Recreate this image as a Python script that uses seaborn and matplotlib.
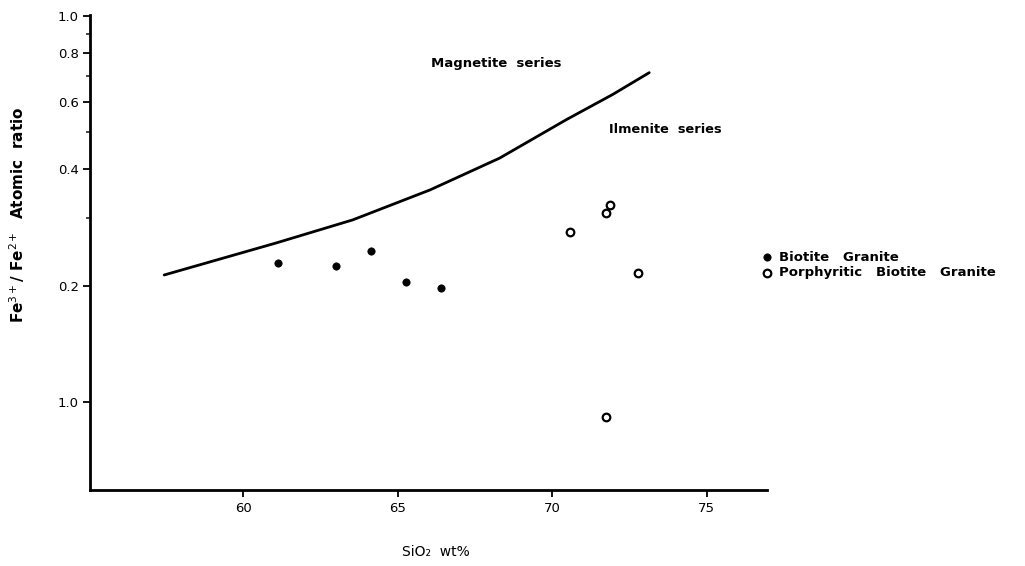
import numpy as np
import pandas as pd
import matplotlib
matplotlib.use("Agg")
import matplotlib.pyplot as plt
from matplotlib.ticker import FixedLocator, NullFormatter
import seaborn as sns

# boundary curve between magnetite and ilmenite series
curve_sio2 = [57.45, 61.08, 63.55, 66.05, 68.30, 70.45, 71.96, 73.14]
curve_ratio = [0.213, 0.258, 0.296, 0.354, 0.428, 0.538, 0.626, 0.713]

# Biotite Granite (filled)
bg_sio2 = [61.13, 63.02, 64.13, 65.28, 66.41]
bg_ratio = [0.229, 0.225, 0.246, 0.204, 0.197]

# Porphyritic Biotite Granite (open)
pbg_sio2 = [70.58, 71.75, 71.88, 72.78, 71.75]
pbg_ratio = [0.276, 0.309, 0.324, 0.215, 0.091]

y_ticks = [1.0, 0.8, 0.6, 0.4, 0.2, 0.1]
y_tick_labels = ["1.0", "0.8", "0.6", "0.4", "0.2", "1.0"]
y_minor = [0.9, 0.7, 0.5, 0.3]
x_ticks = [60, 65, 70, 75]

sns.set_style("ticks")
plt.rcParams["font.family"] = ["DejaVu Sans"]
plt.rcParams["text.color"] = "black"
plt.rcParams["axes.labelcolor"] = "black"

fig = plt.figure(figsize=(10.25, 5.66), dpi=100)
ax = fig.add_axes([0.0878, 0.1343, 0.6605, 0.8392])

curve = pd.DataFrame({"sio2": curve_sio2, "ratio": curve_ratio})
sns.lineplot(data=curve, x="sio2", y="ratio", ax=ax, color="black", lw=2.0,
             sort=False, legend=False)

sns.scatterplot(x=bg_sio2, y=bg_ratio, ax=ax, color="black", s=28,
                edgecolor="black", linewidth=0.5, zorder=3,
                label="Biotite   Granite")
sns.scatterplot(x=pbg_sio2, y=pbg_ratio, ax=ax, facecolor="white", s=30,
                edgecolor="black", linewidth=1.6, zorder=3,
                label="Porphyritic   Biotite   Granite")

ax.set_yscale("log")
ax.set_xlim(55.05, 76.95)
ax.set_ylim(0.059, 1.006)

ax.yaxis.set_major_locator(FixedLocator(y_ticks))
ax.set_yticklabels(y_tick_labels)
ax.yaxis.set_minor_locator(FixedLocator(y_minor))
ax.yaxis.set_minor_formatter(NullFormatter())
ax.set_xticks(x_ticks)
ax.set_xticklabels([str(t) for t in x_ticks])

ax.tick_params(axis="both", which="major", labelsize=9.5, width=1.3,
               length=5, direction="out", colors="black")
ax.tick_params(axis="y", which="minor", width=1.2, length=3, direction="out")
ax.tick_params(axis="y", pad=3)
ax.tick_params(axis="x", pad=4)

for s in ["top", "right"]:
    ax.spines[s].set_visible(False)
for s in ["left", "bottom"]:
    ax.spines[s].set_linewidth(2.0)
    ax.spines[s].set_color("black")

ax.set_xlabel("SiO₂  wt%", fontsize=10)
ax.xaxis.set_label_coords(0.511, -0.115)
ax.set_ylabel("Fe$^{3+}$/ Fe$^{2+}$  Atomic  ratio", fontsize=11,
              fontweight="bold")
ax.yaxis.set_label_coords(-0.093, 0.58)

ax.text(66.08, 0.751, "Magnetite  series", fontsize=9.5, fontweight="bold",
        va="center", ha="left")
ax.text(71.85, 0.507, "Ilmenite  series", fontsize=9.3, fontweight="bold",
        va="center", ha="left")

ax.legend(loc="center left", bbox_to_anchor=(0.738, 0.532),
          bbox_transform=fig.transFigure, frameon=False, handletextpad=0.5,
          handlelength=0.8, labelspacing=0.2, borderaxespad=0,
          prop={"size": 9.5, "weight": "bold"})

fig.savefig("out.png", dpi=100, facecolor="white")
